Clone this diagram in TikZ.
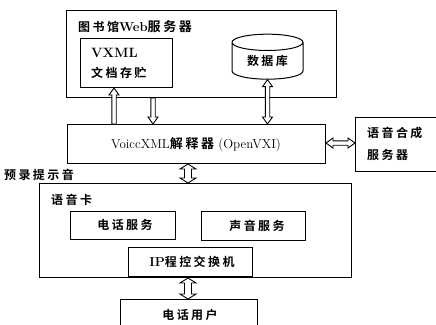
\documentclass[tikz,border=0pt]{standalone}
\usepackage{fontspec}
\newfontfamily\cjk{Noto Sans CJK SC}[BoldFont={Noto Sans CJK SC Bold},LetterSpace=20]
\usetikzlibrary{shapes.geometric,calc}

\tikzset{
  box/.style={draw,line width=1pt,anchor=north west,inner sep=0pt},
  lbl/.style={anchor=west,inner sep=0pt,font=\fontsize{12}{14}\selectfont\bfseries},
  arrshaft/.code={\def\arrsw{#1}},
  arrhead/.code 2 args={\def\arrhw{#1}\def\arrhl{#2}},
  % hollow arrow, head at the target only
  one way/.style={line width=0.9pt,fill=white,to path={
    (\tikztostart) coordinate (s) (\tikztotarget) coordinate (t)
    ($(t)!\arrhl!(s)$) coordinate (b)
    ($(s)!\arrsw!90:(t)$) -- ($(b)!\arrsw!-90:(s)$) -- ($(b)!\arrhw!-90:(s)$)
    -- (t) -- ($(b)!\arrhw!90:(s)$) -- ($(b)!\arrsw!90:(s)$)
    -- ($(s)!\arrsw!-90:(t)$) -- cycle}},
  % hollow arrow, head at both ends
  two way/.style={line width=0.9pt,fill=white,to path={
    (\tikztostart) coordinate (s) (\tikztotarget) coordinate (t)
    ($(s)!\arrhl!(t)$) coordinate (a) ($(t)!\arrhl!(s)$) coordinate (b)
    (s) -- ($(a)!\arrhw!90:(t)$) -- ($(a)!\arrsw!90:(t)$)
    -- ($(b)!\arrsw!-90:(s)$) -- ($(b)!\arrhw!-90:(s)$) -- (t)
    -- ($(b)!\arrhw!90:(s)$) -- ($(b)!\arrsw!90:(s)$)
    -- ($(a)!\arrsw!-90:(t)$) -- ($(a)!\arrhw!-90:(t)$) -- cycle}},
  thin/.style={arrshaft=2.2pt,arrhead={5pt}{7pt}},
  fat/.style={arrshaft=3.5pt,arrhead={8pt}{5pt}}
}

\begin{document}
\begin{tikzpicture}[x=1pt,y=-1pt]

\useasboundingbox (0,0) rectangle (436,324);

% web server side
\node[box,minimum width=270,minimum height=87] (web) at (66,10) {};
\node[lbl] (webname) at (78,27) {{\cjk\bfseries 图书馆}\fontsize{13}{14}\selectfont Web{\cjk\bfseries 服务器}};
\node[box,minimum width=92,minimum height=49] (vxml) at (80,38) {};
\node[lbl,font=\fontsize{13.5}{14}\selectfont\bfseries] (vxmltxt) at (91,53) {VXML};
\node[lbl] (vxmldoc) at (91,73) {\cjk\bfseries 文档存贮};
\node[cylinder,shape border rotate=90,draw,line width=1pt,aspect=0.4,
      minimum width=71,minimum height=45,inner sep=0pt] (db) at (267.5,61)
      {\raisebox{-8pt}{\cjk\bfseries\fontsize{12}{14}\selectfont 数据库}};

% interpreter and synthesis
\node[box,minimum width=258,minimum height=39] (voice) at (67,124) {};
\node[inner sep=0pt,font=\fontsize{13}{14}\selectfont] (voicetxt) at (196,145)
      {VoiccXML{\cjk\bfseries 解释器} (OpenVXI)};
\node[box,minimum width=90,minimum height=54] (tts) at (355,117) {};
\node[lbl] (tts1) at (367,133) {\cjk\bfseries 语音合成};
\node[lbl] (tts2) at (367,155) {\cjk\bfseries 服务器};

\node[lbl] (prompt) at (4,175) {\cjk\bfseries 预录提示音};

% voice card
\node[box,minimum width=312,minimum height=94] (card) at (39,183) {};
\node[lbl] (cardname) at (51,200) {\cjk\bfseries 语音卡};
\node[box,minimum width=105,minimum height=28] (phone) at (70,211) {};
\node[lbl,anchor=center] (phonetxt) at (125,225) {\cjk\bfseries 电话服务};
\node[box,minimum width=104,minimum height=29] (sound) at (201,211) {};
\node[lbl,anchor=center] (soundtxt) at (257,226) {\cjk\bfseries 声音服务};
\node[box,minimum width=124,minimum height=29] (pbx) at (128,247) {};
\node[lbl,anchor=center] (pbxtxt) at (192,262) {\fontsize{13}{14}\selectfont IP{\cjk\bfseries\fontsize{12}{14}\selectfont 程控交换机}};

\node[box,minimum width=137,minimum height=40] (user) at (120,299) {};
\node[lbl,anchor=center] (usertxt) at (190,315) {\cjk\bfseries 电话用户};

% connectors
\coordinate (upx) at (114,0);
\coordinate (downx) at (153,0);
\coordinate (dbx) at (267.5,0);
\coordinate (midx) at (188,0);
\coordinate (ttsy) at (0,143);
\draw[one way,thin] (voice.north -| upx) to (vxml.south -| upx);
\draw[one way,thin] (web.south -| downx) to (voice.north -| downx);
\draw[two way,thin] (db.south -| dbx) to (voice.north -| dbx);
\draw[two way,thin] (voice.east |- ttsy) to (tts.west |- ttsy);
\draw[two way,fat] (voice.south -| midx) to (card.north -| midx);
\draw[two way,fat] (card.south -| midx) to (user.north -| midx);

\end{tikzpicture}
\end{document}
